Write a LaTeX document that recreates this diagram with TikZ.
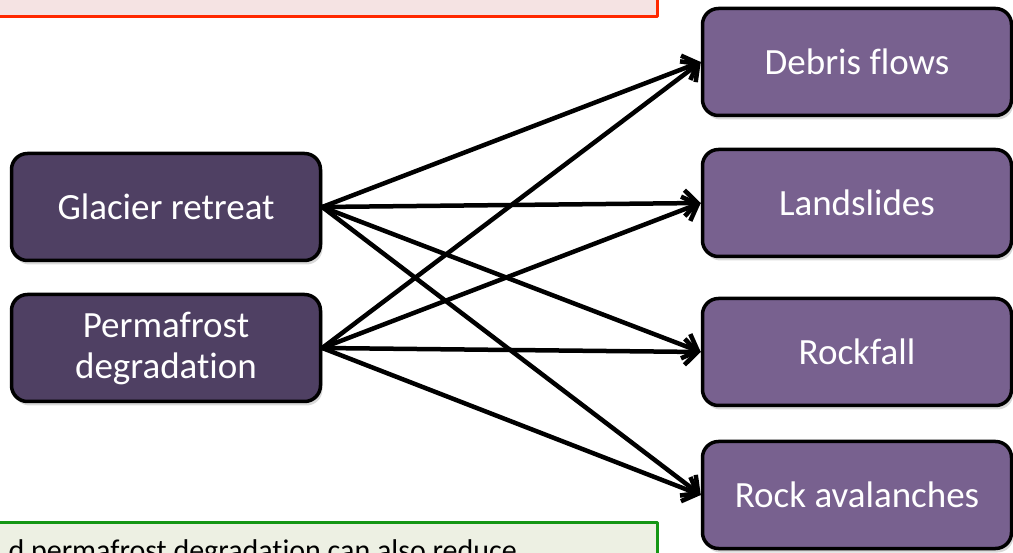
\documentclass[tikz,border=0pt]{standalone}
\usepackage{fontspec}
\setmainfont{Carlito}[Ligatures={NoCommon}]
\usetikzlibrary{arrows.meta,shadows}
\definecolor{zqrfur}{rgb}{0.31,0.25,0.39}
\definecolor{iiuwof}{rgb}{0.47,0.38,0.56}
\definecolor{ffeaqq}{rgb}{1,0.16,0}
\definecolor{fzeree}{rgb}{0.96,0.89,0.89}
\definecolor{wzpuwz}{rgb}{0.08,0.59,0.08}
\definecolor{eefqer}{rgb}{0.93,0.94,0.89}

\begin{document}
\begin{tikzpicture}[line cap=round,line join=round,>={Straight Barb[length=13pt,width=26pt]},x=1pt,y=-1pt,
  cause/.style={draw=black,line width=3.5pt,rounded corners=16pt,fill=zqrfur,text=white,
    minimum width=309pt,minimum height=107pt,font=\fontsize{37}{41}\selectfont,align=center,
    drop shadow={opacity=0.3,shadow xshift=2pt,shadow yshift=-4pt}},
  effect/.style={cause,fill=iiuwof}]
      \useasboundingbox (0,0) rectangle (1013,553);
      \clip (0,0) rectangle (1013,553);
      % note boxes, cut by the frame
      \draw [line width=3pt,color=ffeaqq,fill=fzeree] (-10,-60) rectangle (657,17);
      \draw [line width=3pt,color=wzpuwz,fill=eefqer] (-10,522) rectangle (657,620);
      \node [anchor=base west,font=\fontsize{30}{36}\selectfont] (note) at (5,560) {d permafrost degradation can also reduce};
      % causes
      \node [cause] (glacier) at (166,207) {Glacier retreat};
      \node [cause] (permafrost) at (166,348) {Permafrost\\degradation};
      % hazards
      \node [effect] (debris) at (857,62) {Debris flows};
      \node [effect] (landslides) at (857,203) {Landslides};
      \node [effect] (rockfall) at (857,352) {Rockfall};
      \node [effect] (avalanches) at (857,495) {Rock avalanches};
      \foreach \c in {glacier,permafrost}
      \foreach \h in {debris,landslides,rockfall,avalanches}
      \draw [->,line width=4.5pt,color=black] (\c.east) -- (\h.west);
\end{tikzpicture}
\end{document}
